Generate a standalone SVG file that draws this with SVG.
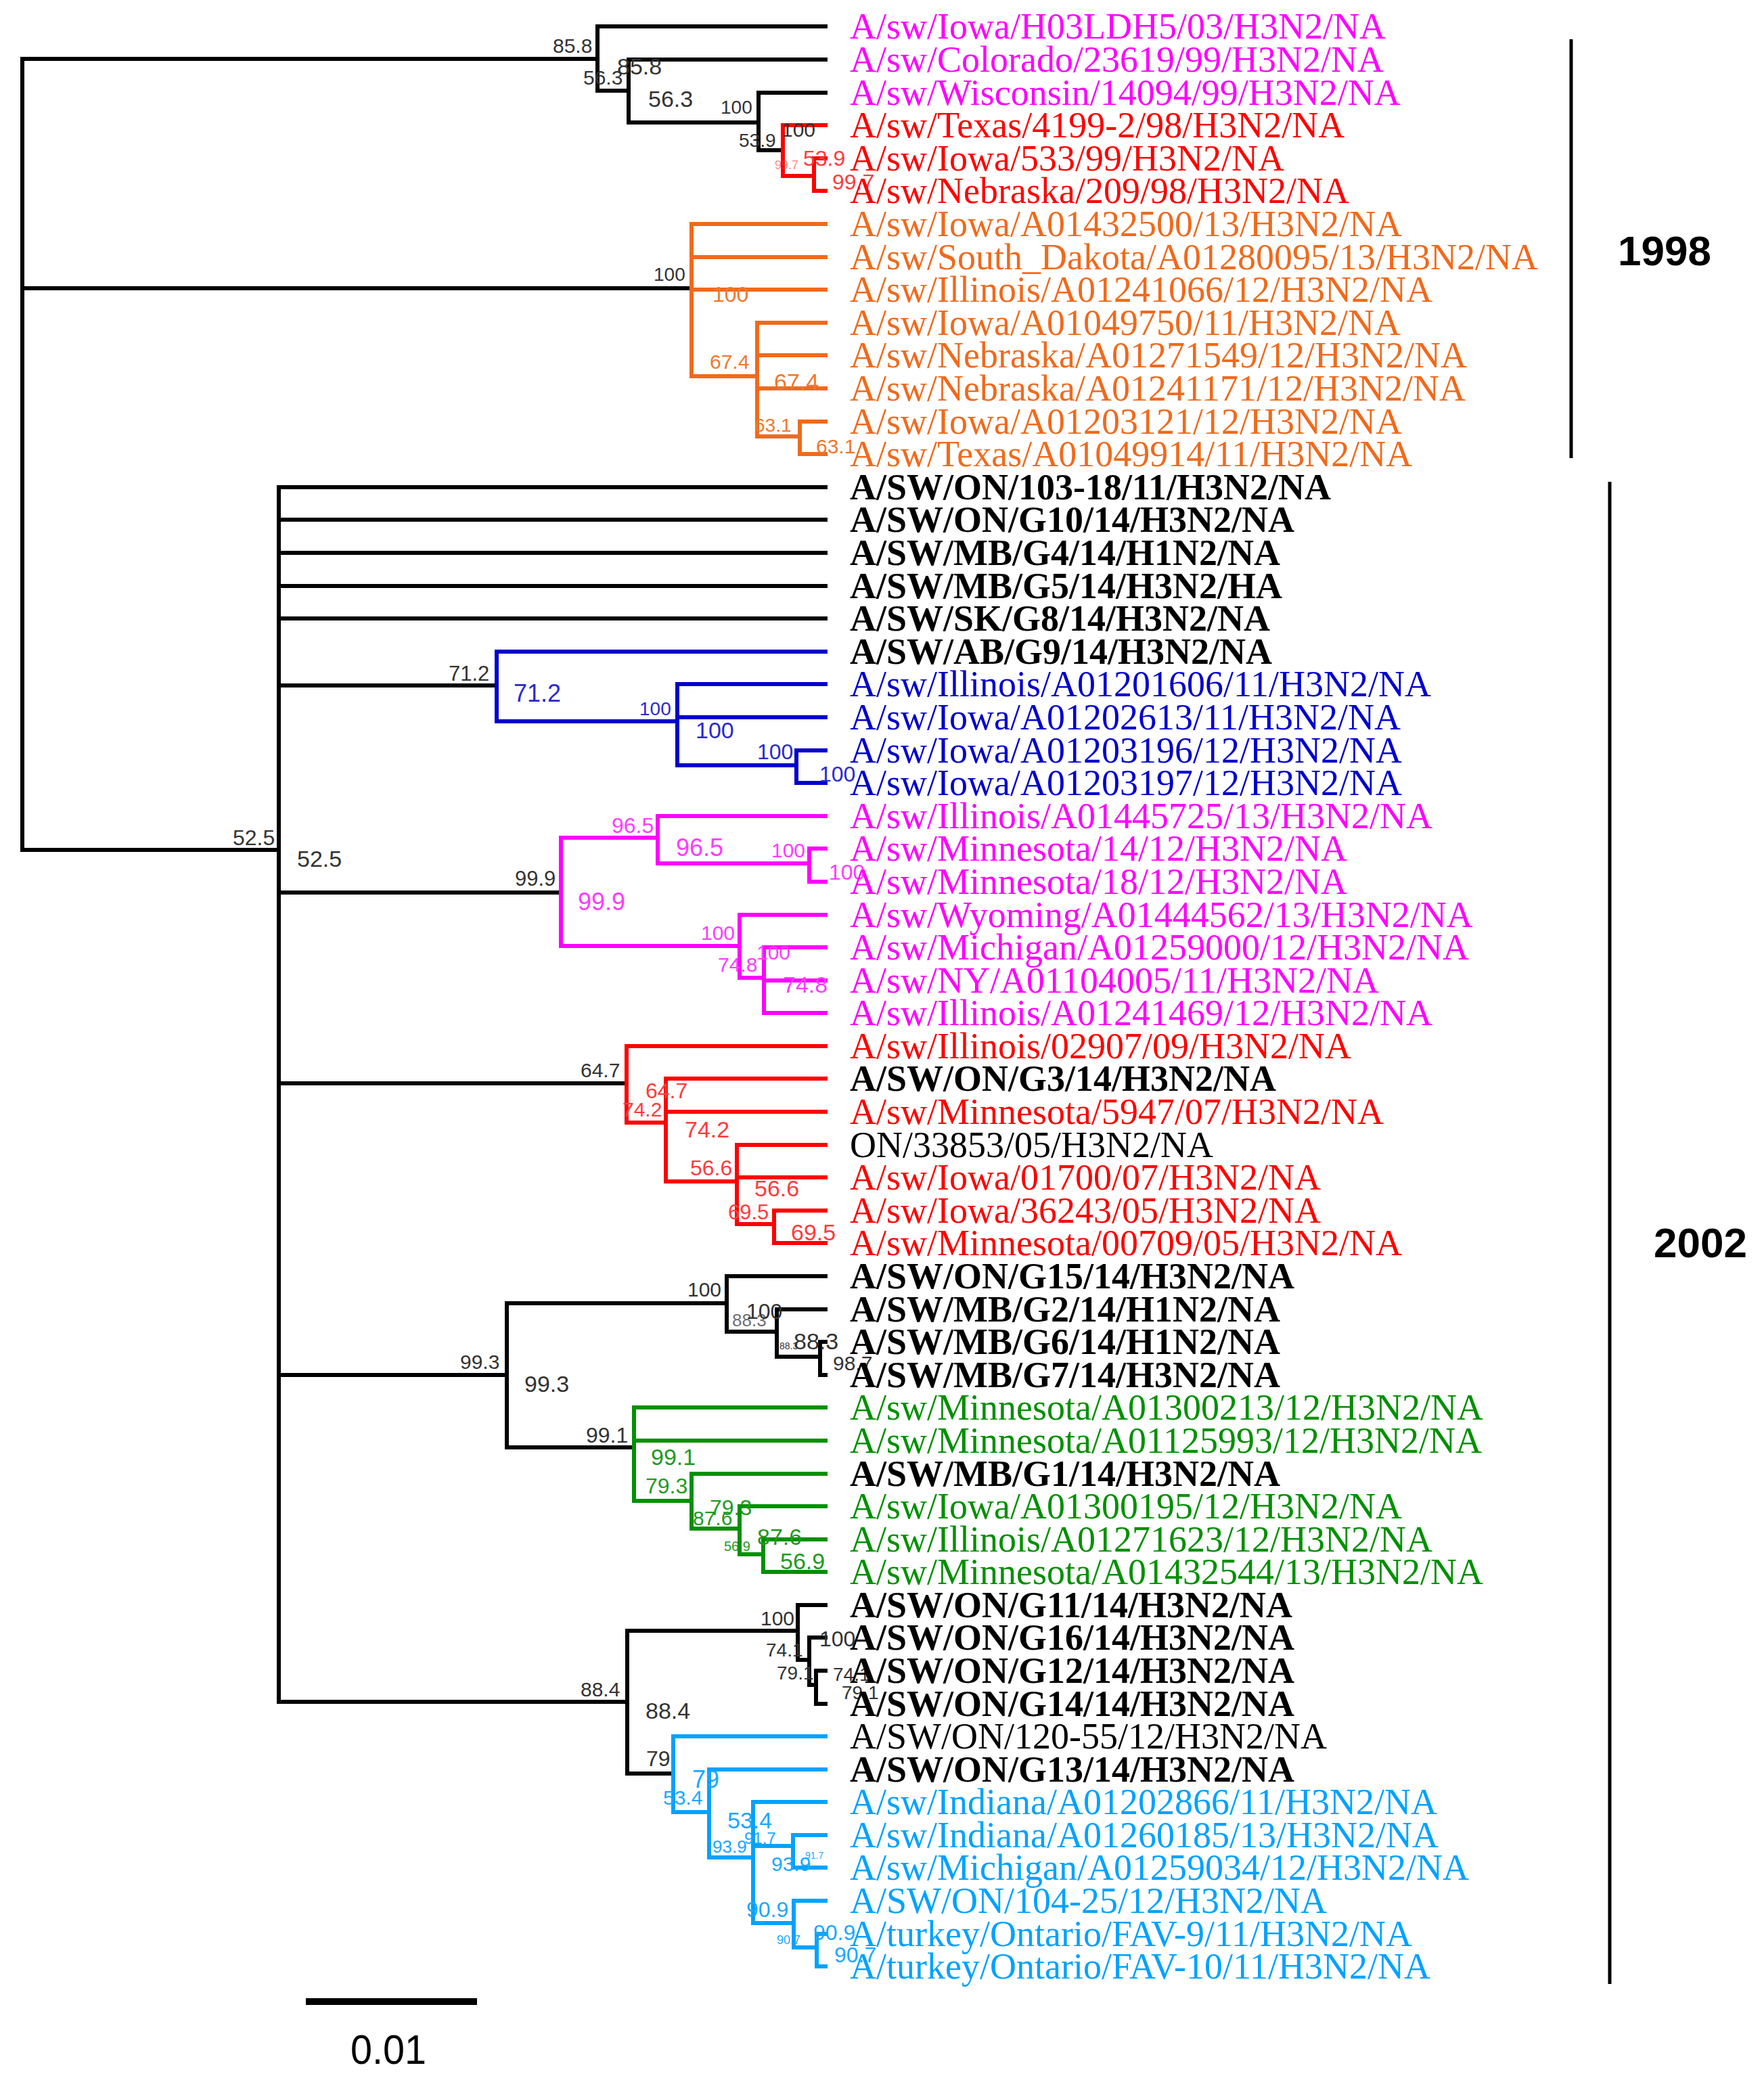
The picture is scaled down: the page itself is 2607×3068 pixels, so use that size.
<svg xmlns="http://www.w3.org/2000/svg" width="2607" height="3068" viewBox="0 0 2607 3068">
<style>
.e{fill:none;stroke-width:6;stroke-linecap:square}
.ek{stroke:#000}.er{stroke:#ff0000}.eo{stroke:#f06a1c}.eb{stroke:#0000cc}.em{stroke:#ff00ff}.eg{stroke:#009000}.el{stroke:#00a2ff}
.t{font-family:"Liberation Serif","Times New Roman",serif;font-size:54px}
.b{font-weight:bold}
.n{font-family:"Liberation Sans",Arial,sans-serif}
.k{fill:#000}.mg{fill:#ff00ff}.rd{fill:#ff0000}.or{fill:#f06a1c}.bl{fill:#0000cc}.gr{fill:#009000}.lb{fill:#00a2ff}
.bk{fill:#333}.br{fill:#ff3b3b}.bo{fill:#f0782e}.bb{fill:#2a2acc}.bm{fill:#ff3cff}.bg{fill:#1f9a1f}.bl2{fill:#1aa8ff}
</style>
<rect width="2607" height="3068" fill="#fff"/>
<g id="connectors">
<path class="e ek" d="M33 87 V1256 M33 87 H883 M33 426 H1022 M33 1256 H412
M883 39 V134 M883 39 H1220 M883 134 H929 M929 88 V181 M929 88 H1220 M929 181 H1121 M1121 137 V222 M1121 137 H1220 M1121 222 H1157
M412 720 V2515 M412 720 H1220 M412 768 H1220 M412 817 H1220 M412 866 H1220 M412 914 H1220
M412 1013 H734 M412 1319 H829 M412 1601 H926 M412 2032 H749 M412 2515 H927
M749 1926 V2139 M749 1926 H1074 M1074 1886 V1968 M1074 1886 H1220 M1074 1968 H1148 M1148 1935 V2005 M1148 1935 H1220 M1148 2005 H1212 M1212 1983 V2032 M1212 1983 H1220 M1212 2032 H1220 M749 2139 H937
M927 2410 V2621 M927 2410 H1179 M1179 2372 V2453 M1179 2372 H1220 M1179 2453 H1196 M1196 2420 V2490 M1196 2420 H1220 M1196 2490 H1206 M1206 2469 V2518 M1206 2469 H1220 M1206 2518 H1220 M927 2621 H995"/>
<path class="e er" d="M1157 185 V260 M1157 185 H1220 M1157 260 H1203 M1203 234 V282 M1203 234 H1220 M1203 282 H1220
M926 1546 V1659 M926 1546 H1220 M926 1659 H984 M984 1594 V1746 M984 1594 H1220 M984 1643 H1220 M984 1746 H1089 M1089 1692 V1809 M1089 1692 H1220 M1089 1740 H1220 M1089 1809 H1144 M1144 1789 V1837 M1144 1789 H1220 M1144 1837 H1220"/>
<path class="e eo" d="M1022 331 V556 M1022 331 H1220 M1022 380 H1220 M1022 428 H1220 M1022 556 H1119 M1119 477 V645 M1119 477 H1220 M1119 525 H1220 M1119 574 H1220 M1119 645 H1182 M1182 623 V671 M1182 623 H1220 M1182 671 H1220"/>
<path class="e eb" d="M734 963 V1066 M734 963 H1220 M734 1066 H1001 M1001 1011 V1131 M1001 1011 H1220 M1001 1060 H1220 M1001 1131 H1177 M1177 1109 V1157 M1177 1109 H1220 M1177 1157 H1220"/>
<path class="e em" d="M829 1238 V1398 M829 1238 H972 M972 1206 V1276 M972 1206 H1220 M972 1276 H1196 M1196 1254 V1303 M1196 1254 H1220 M1196 1303 H1220 M829 1398 H1093 M1093 1352 V1445 M1093 1352 H1220 M1093 1445 H1129 M1129 1400 V1497 M1129 1400 H1220 M1129 1449 H1220 M1129 1497 H1220"/>
<path class="e eg" d="M937 2080 V2218 M937 2080 H1220 M937 2129 H1220 M937 2218 H1022 M1022 2178 V2259 M1022 2178 H1220 M1022 2259 H1093 M1093 2226 V2297 M1093 2226 H1220 M1093 2297 H1128 M1128 2275 V2323 M1128 2275 H1220 M1128 2323 H1220"/>
<path class="e el" d="M995 2566 V2678 M995 2566 H1220 M995 2678 H1048 M1048 2615 V2745 M1048 2615 H1220 M1048 2745 H1113 M1113 2663 V2842 M1113 2663 H1220 M1113 2728 H1172 M1172 2712 V2760 M1172 2712 H1220 M1172 2760 H1220 M1113 2842 H1173 M1173 2809 V2878 M1173 2809 H1220 M1173 2878 H1207 M1207 2858 V2906 M1207 2858 H1220 M1207 2906 H1220"/>
</g>
<g id="support" class="n">
<text class="bk" x="817" y="78" font-size="30">85.8</text>
<text class="bk" x="912" y="110" font-size="34">85.8</text>
<text class="bk" x="862" y="125" font-size="30">56.3</text>
<text class="bk" x="958" y="158" font-size="34">56.3</text>
<text class="bk" x="1065" y="168" font-size="28">100</text>
<text class="bk" x="1092" y="217" font-size="28">53.9</text>
<text class="bk" x="1155" y="202" font-size="30">100</text>
<text class="br" x="1187" y="245" font-size="32">53.9</text>
<text class="br" x="1145" y="250" font-size="18" opacity="0.6">99.7</text>
<text class="br" x="1230" y="280" font-size="32">99.7</text>
<text class="bk" x="966" y="415" font-size="28">100</text>
<text class="bo" x="1053" y="446" font-size="32">100</text>
<text class="bo" x="1049" y="545" font-size="30">67.4</text>
<text class="bo" x="1144" y="576" font-size="34">67.4</text>
<text class="bo" x="1115" y="638" font-size="28">63.1</text>
<text class="bo" x="1206" y="670" font-size="30">63.1</text>
<text class="bk" x="663" y="1006" font-size="31">71.2</text>
<text class="bb" x="759" y="1037" font-size="36">71.2</text>
<text class="bb" x="945" y="1057" font-size="28">100</text>
<text class="bb" x="1028" y="1091" font-size="34">100</text>
<text class="bb" x="1119" y="1122" font-size="32">100</text>
<text class="bb" x="1211" y="1155" font-size="32">100</text>
<text class="bk" x="344" y="1249" font-size="32">52.5</text>
<text class="bk" x="439" y="1281" font-size="34">52.5</text>
<text class="bk" x="761" y="1309" font-size="31">99.9</text>
<text class="bm" x="854" y="1345" font-size="36">99.9</text>
<text class="bm" x="904" y="1231" font-size="32">96.5</text>
<text class="bm" x="999" y="1265" font-size="36">96.5</text>
<text class="bm" x="1140" y="1267" font-size="30">100</text>
<text class="bm" x="1225" y="1300" font-size="32">100</text>
<text class="bm" x="1036" y="1389" font-size="30">100</text>
<text class="bm" x="1061" y="1436" font-size="30">74.8</text>
<text class="bm" x="1118" y="1418" font-size="30">100</text>
<text class="bm" x="1157" y="1467" font-size="34">74.8</text>
<text class="bk" x="858" y="1592" font-size="30">64.7</text>
<text class="br" x="954" y="1623" font-size="32">64.7</text>
<text class="br" x="920" y="1650" font-size="30">74.2</text>
<text class="br" x="1012" y="1681" font-size="34">74.2</text>
<text class="br" x="1020" y="1737" font-size="32">56.6</text>
<text class="br" x="1115" y="1768" font-size="34">56.6</text>
<text class="br" x="1076" y="1802" font-size="31">69.5</text>
<text class="br" x="1169" y="1833" font-size="34">69.5</text>
<text class="bk" x="680" y="2023" font-size="30">99.3</text>
<text class="bk" x="775" y="2057" font-size="34">99.3</text>
<text class="bk" x="1016" y="1916" font-size="30">100</text>
<text class="bk" x="1082" y="1960" font-size="26" opacity="0.7">88.3</text>
<text class="bk" x="1103" y="1949" font-size="32">100</text>
<text class="bk" x="1152" y="1994" font-size="14">88.3</text>
<text class="bk" x="1173" y="1994" font-size="34">88.3</text>
<text class="bk" x="1231" y="2025" font-size="30">98.7</text>
<text class="bk" x="866" y="2132" font-size="32">99.1</text>
<text class="bg" x="962" y="2165" font-size="34">99.1</text>
<text class="bg" x="954" y="2207" font-size="32">79.3</text>
<text class="bg" x="1049" y="2239" font-size="32">79.3</text>
<text class="bg" x="1024" y="2254" font-size="30">87.6</text>
<text class="bg" x="1119" y="2283" font-size="34">87.6</text>
<text class="bg" x="1070" y="2292" font-size="20">56.9</text>
<text class="bg" x="1153" y="2319" font-size="34">56.9</text>
<text class="bk" x="858" y="2507" font-size="30">88.4</text>
<text class="bk" x="954" y="2540" font-size="34">88.4</text>
<text class="bk" x="1124" y="2402" font-size="30">100</text>
<text class="bk" x="1132" y="2448" font-size="28">74.1</text>
<text class="bk" x="1211" y="2433" font-size="32">100</text>
<text class="bk" x="1148" y="2482" font-size="28">79.1</text>
<text class="bk" x="1231" y="2484" font-size="28">74.1</text>
<text class="bk" x="1244" y="2511" font-size="28">79.1</text>
<text class="bk" x="955" y="2610" font-size="32">79</text>
<text class="bl2" x="1023" y="2642" font-size="36">79</text>
<text class="bl2" x="980" y="2667" font-size="30">53.4</text>
<text class="bl2" x="1075" y="2702" font-size="34">53.4</text>
<text class="bl2" x="1053" y="2738" font-size="26">93.9</text>
<text class="bl2" x="1100" y="2725" font-size="24">91.7</text>
<text class="bl2" x="1140" y="2765" font-size="30">93.9</text>
<text class="bl2" x="1190" y="2747" font-size="14">91.7</text>
<text class="bl2" x="1103" y="2833" font-size="32">90.9</text>
<text class="bl2" x="1148" y="2873" font-size="18">90.7</text>
<text class="bl2" x="1202" y="2867" font-size="32">90.9</text>
<text class="bl2" x="1233" y="2900" font-size="32">90.7</text>
</g>
<g class="t">
<g id="leaf-0"><text class="mg" x="1256" y="57">A/sw/Iowa/H03LDH5/03/H3N2/NA</text></g>
<g id="leaf-1"><text class="mg" x="1256" y="106">A/sw/Colorado/23619/99/H3N2/NA</text></g>
<g id="leaf-2"><text class="mg" x="1256" y="155">A/sw/Wisconsin/14094/99/H3N2/NA</text></g>
<g id="leaf-3"><text class="rd" x="1256" y="203">A/sw/Texas/4199-2/98/H3N2/NA</text></g>
<g id="leaf-4"><text class="rd" x="1256" y="252">A/sw/Iowa/533/99/H3N2/NA</text></g>
<g id="leaf-5"><text class="rd" x="1256" y="300">A/sw/Nebraska/209/98/H3N2/NA</text></g>
<g id="leaf-6"><text class="or" x="1256" y="349">A/sw/Iowa/A01432500/13/H3N2/NA</text></g>
<g id="leaf-7"><text class="or" x="1256" y="398">A/sw/South_Dakota/A01280095/13/H3N2/NA</text></g>
<g id="leaf-8"><text class="or" x="1256" y="446">A/sw/Illinois/A01241066/12/H3N2/NA</text></g>
<g id="leaf-9"><text class="or" x="1256" y="495">A/sw/Iowa/A01049750/11/H3N2/NA</text></g>
<g id="leaf-10"><text class="or" x="1256" y="543">A/sw/Nebraska/A01271549/12/H3N2/NA</text></g>
<g id="leaf-11"><text class="or" x="1256" y="592">A/sw/Nebraska/A01241171/12/H3N2/NA</text></g>
<g id="leaf-12"><text class="or" x="1256" y="641">A/sw/Iowa/A01203121/12/H3N2/NA</text></g>
<g id="leaf-13"><text class="or" x="1256" y="689">A/sw/Texas/A01049914/11/H3N2/NA</text></g>
<g id="leaf-14"><text class="k b" x="1256" y="738">A/SW/ON/103-18/11/H3N2/NA</text></g>
<g id="leaf-15"><text class="k b" x="1256" y="786">A/SW/ON/G10/14/H3N2/NA</text></g>
<g id="leaf-16"><text class="k b" x="1256" y="835">A/SW/MB/G4/14/H1N2/NA</text></g>
<g id="leaf-17"><text class="k b" x="1256" y="884">A/SW/MB/G5/14/H3N2/HA</text></g>
<g id="leaf-18"><text class="k b" x="1256" y="932">A/SW/SK/G8/14/H3N2/NA</text></g>
<g id="leaf-19"><text class="k b" x="1256" y="981">A/SW/AB/G9/14/H3N2/NA</text></g>
<g id="leaf-20"><text class="bl" x="1256" y="1029">A/sw/Illinois/A01201606/11/H3N2/NA</text></g>
<g id="leaf-21"><text class="bl" x="1256" y="1078">A/sw/Iowa/A01202613/11/H3N2/NA</text></g>
<g id="leaf-22"><text class="bl" x="1256" y="1127">A/sw/Iowa/A01203196/12/H3N2/NA</text></g>
<g id="leaf-23"><text class="bl" x="1256" y="1175">A/sw/Iowa/A01203197/12/H3N2/NA</text></g>
<g id="leaf-24"><text class="mg" x="1256" y="1224">A/sw/Illinois/A01445725/13/H3N2/NA</text></g>
<g id="leaf-25"><text class="mg" x="1256" y="1272">A/sw/Minnesota/14/12/H3N2/NA</text></g>
<g id="leaf-26"><text class="mg" x="1256" y="1321">A/sw/Minnesota/18/12/H3N2/NA</text></g>
<g id="leaf-27"><text class="mg" x="1256" y="1370">A/sw/Wyoming/A01444562/13/H3N2/NA</text></g>
<g id="leaf-28"><text class="mg" x="1256" y="1418">A/sw/Michigan/A01259000/12/H3N2/NA</text></g>
<g id="leaf-29"><text class="mg" x="1256" y="1467">A/sw/NY/A01104005/11/H3N2/NA</text></g>
<g id="leaf-30"><text class="mg" x="1256" y="1515">A/sw/Illinois/A01241469/12/H3N2/NA</text></g>
<g id="leaf-31"><text class="rd" x="1256" y="1564">A/sw/Illinois/02907/09/H3N2/NA</text></g>
<g id="leaf-32"><text class="k b" x="1256" y="1612">A/SW/ON/G3/14/H3N2/NA</text></g>
<g id="leaf-33"><text class="rd" x="1256" y="1661">A/sw/Minnesota/5947/07/H3N2/NA</text></g>
<g id="leaf-34"><text class="k" x="1256" y="1710">ON/33853/05/H3N2/NA</text></g>
<g id="leaf-35"><text class="rd" x="1256" y="1758">A/sw/Iowa/01700/07/H3N2/NA</text></g>
<g id="leaf-36"><text class="rd" x="1256" y="1807">A/sw/Iowa/36243/05/H3N2/NA</text></g>
<g id="leaf-37"><text class="rd" x="1256" y="1855">A/sw/Minnesota/00709/05/H3N2/NA</text></g>
<g id="leaf-38"><text class="k b" x="1256" y="1904">A/SW/ON/G15/14/H3N2/NA</text></g>
<g id="leaf-39"><text class="k b" x="1256" y="1953">A/SW/MB/G2/14/H1N2/NA</text></g>
<g id="leaf-40"><text class="k b" x="1256" y="2001">A/SW/MB/G6/14/H1N2/NA</text></g>
<g id="leaf-41"><text class="k b" x="1256" y="2050">A/SW/MB/G7/14/H3N2/NA</text></g>
<g id="leaf-42"><text class="gr" x="1256" y="2098">A/sw/Minnesota/A01300213/12/H3N2/NA</text></g>
<g id="leaf-43"><text class="gr" x="1256" y="2147">A/sw/Minnesota/A01125993/12/H3N2/NA</text></g>
<g id="leaf-44"><text class="k b" x="1256" y="2196">A/SW/MB/G1/14/H3N2/NA</text></g>
<g id="leaf-45"><text class="gr" x="1256" y="2244">A/sw/Iowa/A01300195/12/H3N2/NA</text></g>
<g id="leaf-46"><text class="gr" x="1256" y="2293">A/sw/Illinois/A01271623/12/H3N2/NA</text></g>
<g id="leaf-47"><text class="gr" x="1256" y="2341">A/sw/Minnesota/A01432544/13/H3N2/NA</text></g>
<g id="leaf-48"><text class="k b" x="1256" y="2390">A/SW/ON/G11/14/H3N2/NA</text></g>
<g id="leaf-49"><text class="k b" x="1256" y="2438">A/SW/ON/G16/14/H3N2/NA</text></g>
<g id="leaf-50"><text class="k b" x="1256" y="2487">A/SW/ON/G12/14/H3N2/NA</text></g>
<g id="leaf-51"><text class="k b" x="1256" y="2536">A/SW/ON/G14/14/H3N2/NA</text></g>
<g id="leaf-52"><text class="k" x="1256" y="2584">A/SW/ON/120-55/12/H3N2/NA</text></g>
<g id="leaf-53"><text class="k b" x="1256" y="2633">A/SW/ON/G13/14/H3N2/NA</text></g>
<g id="leaf-54"><text class="lb" x="1256" y="2681">A/sw/Indiana/A01202866/11/H3N2/NA</text></g>
<g id="leaf-55"><text class="lb" x="1256" y="2730">A/sw/Indiana/A01260185/13/H3N2/NA</text></g>
<g id="leaf-56"><text class="lb" x="1256" y="2778">A/sw/Michigan/A01259034/12/H3N2/NA</text></g>
<g id="leaf-57"><text class="lb" x="1256" y="2827">A/SW/ON/104-25/12/H3N2/NA</text></g>
<g id="leaf-58"><text class="lb" x="1256" y="2876">A/turkey/Ontario/FAV-9/11/H3N2/NA</text></g>
<g id="leaf-59"><text class="lb" x="1256" y="2924">A/turkey/Ontario/FAV-10/11/H3N2/NA</text></g>
</g>
<g id="group-1998">
<line x1="2322" y1="58" x2="2322" y2="677" stroke="#000" stroke-width="5"/>
<text class="n" x="2391" y="392" font-size="62" font-weight="bold">1998</text>
</g>
<g id="group-2002">
<line x1="2379" y1="712" x2="2379" y2="2932" stroke="#000" stroke-width="5"/>
<text class="n" x="2444" y="1858" font-size="62" font-weight="bold">2002</text>
</g>
<g id="scale-bar">
<line x1="452" y1="2958" x2="705" y2="2958" stroke="#000" stroke-width="10"/>
<text class="n" x="518" y="3050" font-size="62" textLength="112" lengthAdjust="spacingAndGlyphs">0.01</text>
</g>
</svg>
